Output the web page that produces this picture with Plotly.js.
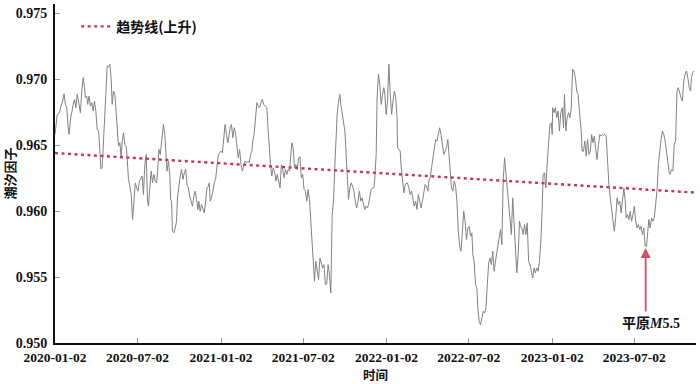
<!DOCTYPE html>
<html><head><meta charset="utf-8">
<script src="https://cdn.plot.ly/plotly-3.0.1.min.js"></script>
<style>html,body{margin:0;padding:0;background:#fff}#chart{width:700px;height:384px}</style>
</head><body><div id="chart"></div>
<script>
const dates = [
'2020-01-02','2020-01-07','2020-01-12','2020-01-15','2020-01-19','2020-01-22','2020-01-25','2020-01-28','2020-01-31','2020-02-02',
'2020-02-06','2020-02-08','2020-02-11','2020-02-14','2020-02-17','2020-02-20','2020-02-24','2020-02-27','2020-03-01','2020-03-04',
'2020-03-07','2020-03-09','2020-03-12','2020-03-14','2020-03-17','2020-03-20','2020-03-23','2020-03-26','2020-03-29','2020-04-01',
'2020-04-04','2020-04-07','2020-04-10','2020-04-12','2020-04-15','2020-04-18','2020-04-21','2020-04-23','2020-04-26','2020-04-29',
'2020-05-02','2020-05-05','2020-05-07','2020-05-10','2020-05-13','2020-05-16','2020-05-19','2020-05-21','2020-05-24','2020-05-27',
'2020-05-29','2020-06-01','2020-06-04','2020-06-07','2020-06-09','2020-06-12','2020-06-15','2020-06-18','2020-06-21','2020-06-24',
'2020-06-27','2020-06-30','2020-07-03','2020-07-06','2020-07-09','2020-07-12','2020-07-15','2020-07-18','2020-07-21','2020-07-24',
'2020-07-26','2020-07-29','2020-08-01','2020-08-04','2020-08-07','2020-08-10','2020-08-13','2020-08-15','2020-08-18','2020-08-21',
'2020-08-24','2020-08-28','2020-08-31','2020-09-03','2020-09-05','2020-09-08','2020-09-11','2020-09-13','2020-09-15','2020-09-17',
'2020-09-20','2020-09-23','2020-09-26','2020-09-28','2020-10-01','2020-10-04','2020-10-07','2020-10-10','2020-10-13','2020-10-16',
'2020-10-19','2020-10-22','2020-10-25','2020-10-28','2020-10-31','2020-11-03','2020-11-06','2020-11-09','2020-11-12','2020-11-14',
'2020-11-17','2020-11-20','2020-11-23','2020-11-26','2020-11-29','2020-12-02','2020-12-05','2020-12-07','2020-12-09','2020-12-12',
'2020-12-15','2020-12-18','2020-12-21','2020-12-24','2020-12-27','2020-12-30',
'2021-01-02','2021-01-05','2021-01-08','2021-01-11','2021-01-14','2021-01-17','2021-01-20','2021-01-22','2021-01-25','2021-01-28',
'2021-01-31','2021-02-03','2021-02-06','2021-02-09','2021-02-12','2021-02-15','2021-02-18','2021-02-21','2021-02-24','2021-02-27',
'2021-03-02','2021-03-05','2021-03-08','2021-03-11','2021-03-13','2021-03-16','2021-03-19','2021-03-22','2021-03-25','2021-03-28',
'2021-03-31','2021-04-03','2021-04-06','2021-04-09','2021-04-13','2021-04-16','2021-04-18','2021-04-21','2021-04-24','2021-04-27',
'2021-04-30','2021-05-03','2021-05-06','2021-05-09','2021-05-12','2021-05-15','2021-05-18','2021-05-21','2021-05-24','2021-05-27',
'2021-05-30','2021-06-02','2021-06-05','2021-06-07','2021-06-10','2021-06-13','2021-06-16','2021-06-19','2021-06-22','2021-06-25',
'2021-06-28','2021-07-01','2021-07-04','2021-07-07','2021-07-10','2021-07-13','2021-07-16','2021-07-19','2021-07-22','2021-07-24',
'2021-07-27','2021-07-30','2021-08-02','2021-08-05','2021-08-08','2021-08-11','2021-08-14','2021-08-17','2021-08-20','2021-08-23',
'2021-08-26','2021-08-29','2021-09-01','2021-09-04','2021-09-07','2021-09-10','2021-09-12','2021-09-15','2021-09-18','2021-09-21',
'2021-09-23','2021-09-26','2021-09-29','2021-10-02','2021-10-04','2021-10-07','2021-10-10','2021-10-13','2021-10-16','2021-10-19',
'2021-10-22','2021-10-25','2021-10-28','2021-10-31','2021-11-03','2021-11-06','2021-11-09','2021-11-12','2021-11-15','2021-11-18',
'2021-11-21','2021-11-23','2021-11-26','2021-11-29','2021-12-02','2021-12-05','2021-12-07','2021-12-10','2021-12-12','2021-12-15',
'2021-12-18','2021-12-21','2021-12-24','2021-12-27','2021-12-29',
'2022-01-01','2022-01-04','2022-01-07','2022-01-10','2022-01-13','2022-01-16','2022-01-19','2022-01-22','2022-01-25','2022-01-26',
'2022-01-29','2022-02-01','2022-02-03','2022-02-06','2022-02-09','2022-02-12','2022-02-15','2022-02-17','2022-02-20','2022-02-23',
'2022-02-26','2022-03-01','2022-03-04','2022-03-07','2022-03-10','2022-03-13','2022-03-16','2022-03-19','2022-03-22','2022-03-25',
'2022-03-28','2022-03-31','2022-04-03','2022-04-05','2022-04-08','2022-04-11','2022-04-14','2022-04-17','2022-04-20','2022-04-23',
'2022-04-26','2022-04-29','2022-05-02','2022-05-05','2022-05-08','2022-05-11','2022-05-14','2022-05-17','2022-05-20','2022-05-23',
'2022-05-25','2022-05-28','2022-05-31','2022-06-03','2022-06-06','2022-06-09','2022-06-12','2022-06-15','2022-06-18','2022-06-21',
'2022-06-24','2022-06-27','2022-06-30','2022-07-03','2022-07-06','2022-07-09','2022-07-11','2022-07-14','2022-07-17','2022-07-20',
'2022-07-22','2022-07-25','2022-07-28','2022-07-31','2022-08-03','2022-08-06','2022-08-09','2022-08-12','2022-08-15','2022-08-18',
'2022-08-21','2022-08-24','2022-08-27','2022-08-30','2022-09-02','2022-09-05','2022-09-07','2022-09-10','2022-09-13','2022-09-16',
'2022-09-19','2022-09-22','2022-09-25','2022-09-28','2022-10-01','2022-10-04','2022-10-07','2022-10-10','2022-10-13','2022-10-16',
'2022-10-19','2022-10-22','2022-10-24','2022-10-27','2022-10-30','2022-11-02','2022-11-05','2022-11-08','2022-11-11','2022-11-14',
'2022-11-17','2022-11-20','2022-11-23','2022-11-26','2022-11-29','2022-12-02','2022-12-05','2022-12-08','2022-12-11','2022-12-13',
'2022-12-16','2022-12-19','2022-12-22','2022-12-25','2022-12-28','2022-12-31',
'2023-01-02','2023-01-03','2023-01-06','2023-01-09','2023-01-12','2023-01-15','2023-01-18','2023-01-21','2023-01-24','2023-01-27',
'2023-01-29','2023-02-01','2023-02-04','2023-02-07','2023-02-10','2023-02-13','2023-02-16','2023-02-19','2023-02-22','2023-02-25',
'2023-02-28','2023-03-03','2023-03-07','2023-03-09','2023-03-12','2023-03-15','2023-03-18','2023-03-21','2023-03-24','2023-03-27',
'2023-03-30','2023-04-02','2023-04-05','2023-04-08','2023-04-11','2023-04-14','2023-04-17','2023-04-20','2023-04-23','2023-04-25',
'2023-04-28','2023-05-01','2023-05-04','2023-05-07','2023-05-10','2023-05-13','2023-05-16','2023-05-19','2023-05-22','2023-05-25',
'2023-05-28','2023-05-31','2023-06-03','2023-06-06','2023-06-09','2023-06-12','2023-06-14','2023-06-17','2023-06-20','2023-06-23',
'2023-06-26','2023-06-29','2023-07-02','2023-07-05','2023-07-08','2023-07-11','2023-07-14','2023-07-17','2023-07-20','2023-07-23',
'2023-07-26','2023-07-29','2023-07-31','2023-08-03','2023-08-06','2023-08-09','2023-08-12','2023-08-15','2023-08-18','2023-08-21',
'2023-08-24','2023-08-27','2023-08-30','2023-09-02','2023-09-05','2023-09-08','2023-09-11','2023-09-14','2023-09-17','2023-09-19',
'2023-09-22','2023-09-25','2023-09-28','2023-10-01','2023-10-04','2023-10-07','2023-10-10','2023-10-13','2023-10-16','2023-10-19',
'2023-10-22','2023-10-25','2023-10-28','2023-10-31','2023-11-03','2023-11-05','2023-11-08','2023-11-10'
];
const tidalFactor = [
0.96581,0.96733,0.96746,0.96796,0.96834,0.96890,0.96809,0.96784,0.96632,0.96581,
0.96720,0.96746,0.96809,0.96847,0.96784,0.96885,0.96809,0.96746,0.96910,0.97012,
0.96936,0.96860,0.96872,0.96809,0.96872,0.96796,0.96822,0.96758,0.96834,0.96758,
0.96619,0.96607,0.96455,0.96320,0.96328,0.96505,0.96708,0.96885,0.97100,0.97093,
0.97113,0.96986,0.96809,0.96910,0.96885,0.96746,0.96607,0.96493,0.96518,0.96404,
0.96531,0.96594,0.96505,0.96493,0.96404,0.96240,0.96189,0.96126,0.95936,0.96075,
0.96214,0.96176,0.96151,0.96227,0.96252,0.96265,0.96126,0.96353,0.96429,0.96075,
0.96037,0.96176,0.96303,0.96214,0.96278,0.96227,0.96214,0.96290,0.96467,0.96429,
0.96556,0.96657,0.96581,0.96429,0.96303,0.96379,0.96278,0.96088,0.96075,0.95847,
0.95835,0.95872,0.95923,0.96100,0.96214,0.96265,0.96316,0.96240,0.96290,0.96316,
0.96202,0.96176,0.96113,0.96062,0.96037,0.96113,0.96151,0.96088,0.96012,0.96075,
0.95999,0.96050,0.96012,0.95986,0.96075,0.96176,0.96189,0.96214,0.96075,0.96100,
0.96151,0.96214,0.96240,0.96328,0.96429,0.96442,
0.96455,0.96442,0.96531,0.96657,0.96581,0.96518,0.96581,0.96632,0.96657,0.96556,
0.96632,0.96594,0.96493,0.96404,0.96467,0.96353,0.96303,0.96353,0.96379,0.96366,
0.96379,0.96366,0.96429,0.96455,0.96531,0.96581,0.96682,0.96822,0.96796,0.96784,
0.96822,0.96847,0.96809,0.96796,0.96784,0.96607,0.96480,0.96353,0.96265,0.96328,
0.96303,0.96227,0.96278,0.96214,0.96176,0.96353,0.96316,0.96252,0.96316,0.96278,
0.96316,0.96303,0.96429,0.96518,0.96480,0.96328,0.96353,0.96316,0.96404,0.96412,
0.96252,0.96278,0.96164,0.96151,0.96075,0.96164,0.96088,0.95923,0.95670,0.95620,
0.95468,0.95620,0.95544,0.95481,0.95645,0.95607,0.95569,0.95594,0.95443,0.95448,
0.95594,0.95518,0.95379,0.95974,0.96075,0.96353,0.96556,0.96733,0.96834,0.96885,
0.96809,0.96733,0.96682,0.96607,0.96480,0.96227,0.96088,0.96176,0.96214,0.96189,
0.96151,0.96075,0.96024,0.96075,0.96151,0.96075,0.96100,0.96050,0.96012,0.96037,
0.96024,0.96050,0.96113,0.96164,0.96176,0.96176,0.96252,0.96429,0.96860,0.97037,
0.96961,0.96809,0.96885,0.96936,0.96885,
0.96733,0.96834,0.97113,0.96885,0.96733,0.96834,0.96910,0.96860,0.96708,0.96480,
0.96467,0.96455,0.96341,0.96227,0.96138,0.96202,0.96214,0.96214,0.96176,0.96126,
0.96151,0.96075,0.96037,0.96075,0.96012,0.96126,0.96062,0.96024,0.96075,0.96126,
0.96202,0.96189,0.96151,0.96227,0.96252,0.96328,0.96404,0.96505,0.96543,0.96531,
0.96581,0.96632,0.96581,0.96493,0.96429,0.96455,0.96480,0.96543,0.96429,0.96252,
0.96176,0.96151,0.96227,0.96189,0.96075,0.95847,0.95734,0.95696,0.95872,0.95999,
0.95923,0.95784,0.95872,0.95885,0.95809,0.95835,0.95670,0.95620,0.95443,0.95417,
0.95265,0.95164,0.95139,0.95189,0.95240,0.95227,0.95265,0.95443,0.95607,0.95645,
0.95594,0.95696,0.95544,0.95620,0.95696,0.95734,0.95822,0.95860,0.95746,0.96227,
0.96404,0.96278,0.96176,0.96024,0.95898,0.95822,0.96100,0.95923,0.95670,0.95531,
0.95670,0.95923,0.95885,0.95872,0.95822,0.95898,0.95822,0.95911,0.95620,0.95594,
0.95544,0.95493,0.95569,0.95531,0.95569,0.95544,0.95620,0.95771,0.96024,0.96278,
0.96290,0.96176,0.96353,0.96556,0.96657,0.96670,
0.96581,0.96784,0.96746,0.96784,0.96708,0.96758,0.96607,0.96746,0.96784,0.96632,
0.96885,0.96607,0.96708,0.96746,0.96708,0.96784,0.97075,0.97062,0.97012,0.96910,
0.96885,0.96758,0.96607,0.96455,0.96455,0.96531,0.96417,0.96543,0.96429,0.96455,
0.96581,0.96518,0.96569,0.96467,0.96391,0.96505,0.96581,0.96569,0.96581,0.96576,
0.96581,0.96569,0.96353,0.96202,0.96100,0.95999,0.95923,0.95847,0.95948,0.96100,
0.96050,0.96075,0.95986,0.96100,0.96176,0.96075,0.95948,0.95974,0.95936,0.95999,
0.95923,0.95974,0.96037,0.95923,0.95872,0.95898,0.95860,0.95885,0.95822,0.95872,
0.95734,0.95734,0.95847,0.95936,0.95872,0.95948,0.95923,0.95948,0.96050,0.96151,
0.96353,0.96480,0.96543,0.96607,0.96581,0.96531,0.96455,0.96353,0.96290,0.96278,
0.96316,0.96303,0.96505,0.96531,0.96910,0.96936,0.96885,0.96860,0.96834,0.96986,
0.97037,0.97062,0.97012,0.96936,0.96910,0.97012,0.97049,0.97062
];
const trendDates = ['2020-01-02', '2023-11-15'];
const trendValues = [0.9644, 0.9614];
const xTickVals = ['2020-01-02','2020-07-02','2021-01-02','2021-07-02','2022-01-02','2022-07-02','2023-01-02','2023-07-02'];
const yTickVals = [0.950, 0.955, 0.960, 0.965, 0.970, 0.975];
const eventDate = '2023-07-27';
const eventValue = 0.9572;
const eventLabelDate = '2023-08-07';
const eventLabelValue = 0.9515;
const eventLabel = '平原<i>M</i>5.5';

const serif = '"Liberation Serif", "Times New Roman", "Noto Sans CJK SC", serif';
const cjk = '"Noto Sans CJK SC", "Liberation Serif", sans-serif';

const traces = [
  {x: dates, y: tidalFactor, type: 'scatter', mode: 'lines', name: '潮汐因子', showlegend: false,
   line: {color: '#828282', width: 1}, hoverinfo: 'skip'},
  {x: trendDates, y: trendValues, type: 'scatter', mode: 'lines', name: '趋势线(上升)',
   line: {color: '#c8334f', width: 2.4, dash: '3px,3.5px'}}
];

const layout = {
  width: 700, height: 384,
  margin: {l: 55, r: 4, t: 4, b: 41},
  paper_bgcolor: '#ffffff', plot_bgcolor: '#ffffff',
  showlegend: true,
  legend: {x: 0.033, y: 0.98, xanchor: 'left', yanchor: 'top', bgcolor: 'rgba(0,0,0,0)',
           font: {family: cjk, size: 14, weight: 'bold', color: '#111'}},
  xaxis: {type: 'date', range: ['2020-01-02', '2023-11-15'], tickmode: 'array',
          tickvals: xTickVals, ticktext: xTickVals, ticks: 'inside', ticklen: 5, tickwidth: 1, tickcolor: '#999',
          showline: true, linecolor: '#111', linewidth: 2, showgrid: false, zeroline: false,
          ticklabelstandoff: 1,
          tickfont: {family: serif, size: 13.5, weight: 'bold', color: '#111'},
          title: {text: '时间', font: {family: cjk, size: 12.5, weight: 'bold', color: '#111'}, standoff: 0}},
  yaxis: {range: [0.950, 0.9757], tickmode: 'array', tickvals: yTickVals, tickformat: '.3f',
          ticks: 'inside', ticklen: 5, tickwidth: 1, tickcolor: '#999',
          showline: true, linecolor: '#111', linewidth: 2, showgrid: false, zeroline: false,
          ticklabelstandoff: 3,
          tickfont: {family: serif, size: 14, weight: 'bold', color: '#111'},
          title: {text: '潮汐因子', font: {family: cjk, size: 13, weight: 'bold', color: '#111'}, standoff: 2}},
  annotations: [
    {x: eventDate, y: eventValue, xref: 'x', yref: 'y', text: '', showarrow: true,
     ax: 0, ay: 65, axref: 'pixel', ayref: 'pixel', arrowhead: 2, arrowsize: 1.1, arrowwidth: 1.8,
     arrowcolor: '#dd4a62', standoff: 0, startstandoff: 0},
    {x: eventLabelDate, y: eventLabelValue, xref: 'x', yref: 'y', text: eventLabel, showarrow: false,
     xanchor: 'center', yanchor: 'middle',
     font: {family: serif, size: 14, weight: 'bold', color: '#111'}}
  ]
};

Plotly.newPlot('chart', traces, layout, {displayModeBar: false, staticPlot: true});
</script>
</body></html>
